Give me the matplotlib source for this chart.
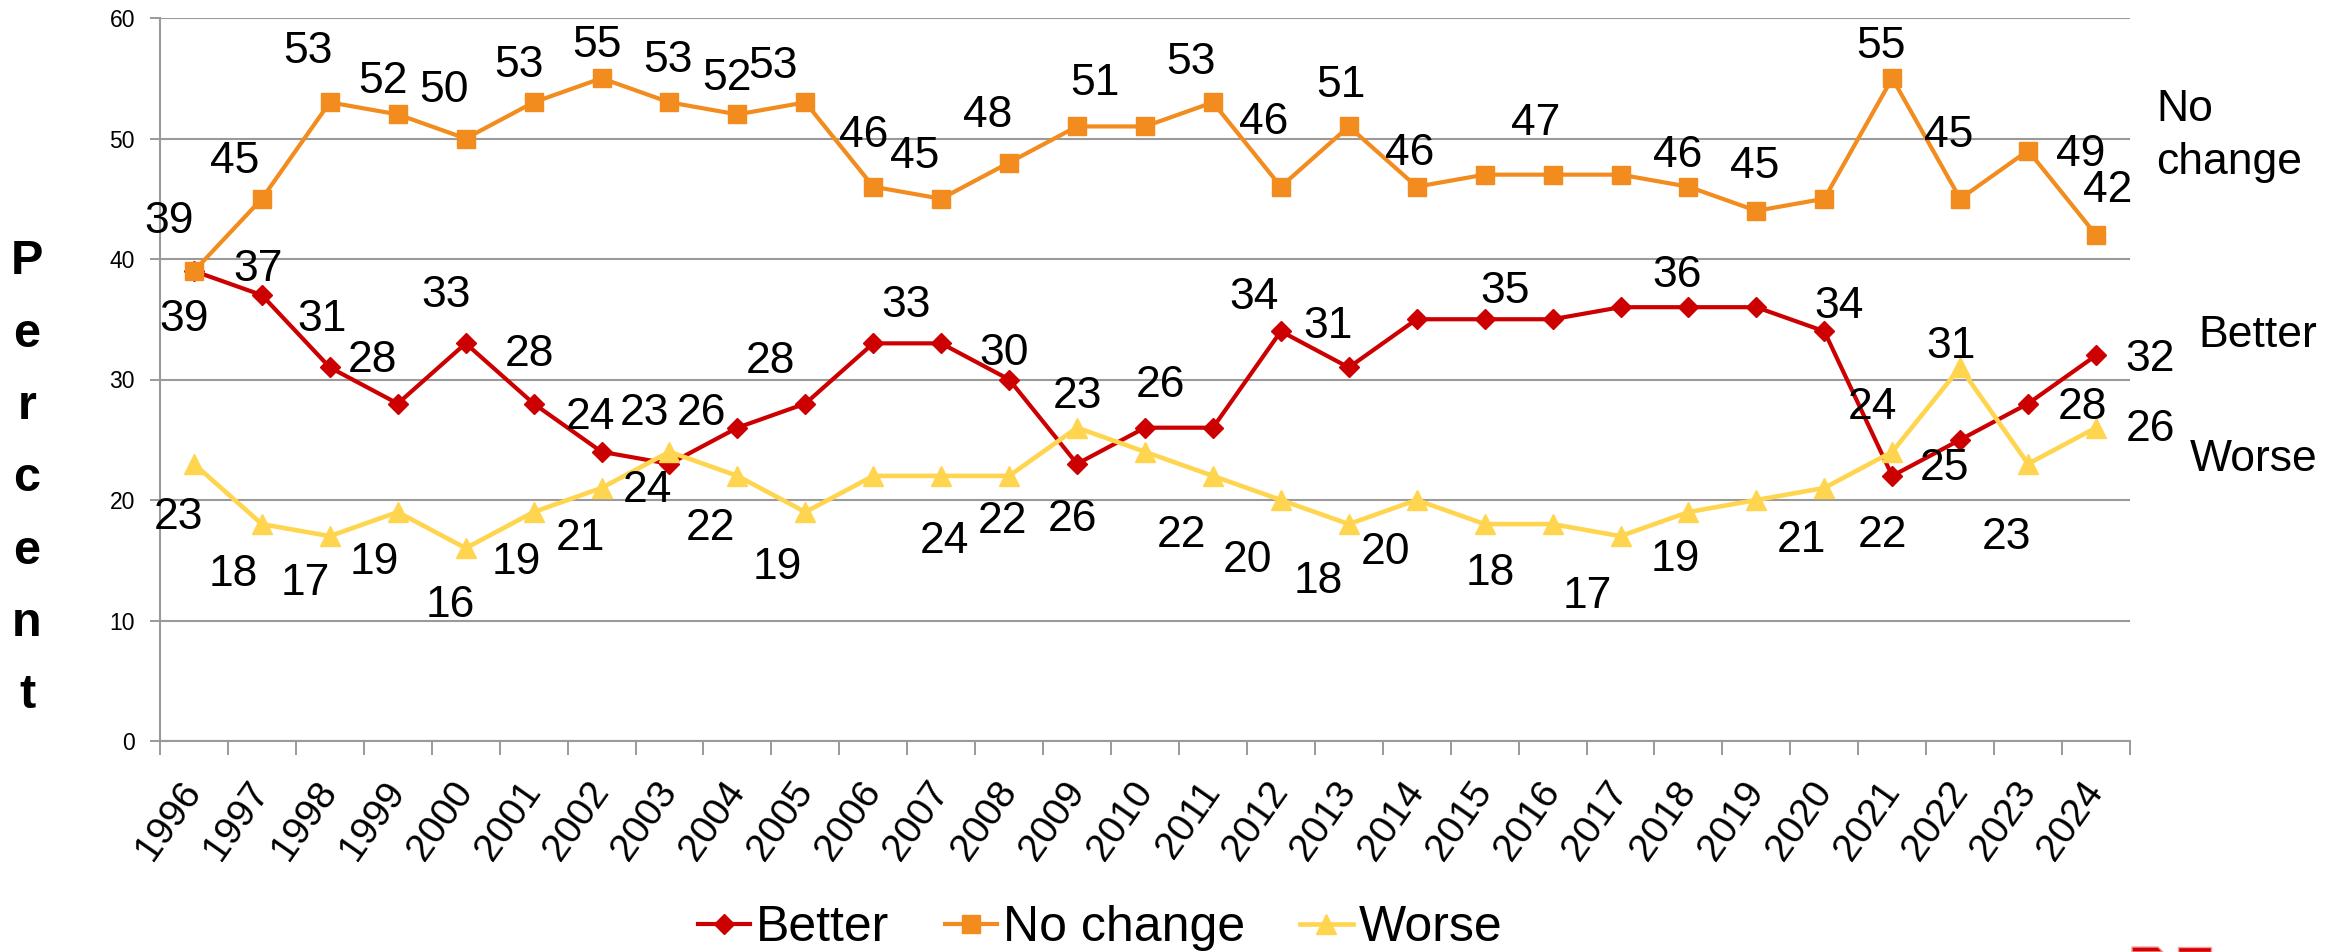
import matplotlib.pyplot as plt
from matplotlib.patches import Polygon
import numpy as np

plt.rcParams['font.family'] = ['Liberation Sans', 'DejaVu Sans']

years = [str(y) for y in range(1996, 2025)]

better = [39, 37, 31, 28, 33, 28, 24, 23, 26, 28, 33, 33, 30, 23, 26, 26, 34, 31,
          35, 35, 35, 36, 36, 36, 34, 22, 25, 28, 32]
no_change = [39, 45, 53, 52, 50, 53, 55, 53, 52, 53, 46, 45, 48, 51, 51, 53, 46, 51,
             46, 47, 47, 47, 46, 44, 45, 55, 45, 49, 42]
worse = [23, 18, 17, 19, 16, 19, 21, 24, 22, 19, 22, 22, 22, 26, 24, 22, 20, 18,
         20, 18, 18, 17, 19, 20, 21, 24, 31, 23, 26]

# data labels as printed on the chart ('' = no label shown)
better_lbl = ['39', '37', '31', '28', '33', '28', '24', '23', '26', '28', '33', '', '30', '23',
              '26', '', '34', '31', '', '35', '', '', '36', '', '34', '22', '25', '28', '32']
nochange_lbl = ['39', '45', '53', '52', '50', '53', '55', '53', '52', '53', '46', '45', '48', '51',
                '', '53', '46', '51', '46', '', '47', '', '46', '', '45', '55', '45', '49', '42']
worse_lbl = ['23', '18', '17', '19', '16', '19', '21', '24', '22', '19', '', '24', '22', '26',
             '', '22', '20', '18', '20', '18', '', '17', '19', '', '21', '24', '31', '23', '26']

# label offsets from the point, pixels (right, down)
better_off = [(-10, 44), (-4, -30), (-8, -52), (-25, -47), (-20, -52), (-4, -53), (-11, -38),
              (-25, -54), (-36, -18), (-35, -46), (33, -42), (0, 0), (-5, -30), (0, -71),
              (15, -46), (0, 0), (-27, -38), (-21, -45), (0, 0), (20, -32), (0, 0), (0, 0),
              (-11, -36), (0, 0), (15, -29), (-10, 56), (-16, 25), (54, 0), (54, 0)]
nochange_off = [(-25, -54), (-27, -41), (-22, -55), (-15, -37), (-22, -52), (-15, -41), (-5, -37),
                (-1, -46), (-10, -40), (-32, -40), (-10, -55), (-27, -46), (-22, -51), (18, -47),
                (0, 0), (-22, -44), (-17, -68), (-8, -45), (-7, -37), (0, 0), (-17, -55), (0, 0),
                (-11, -35), (0, 0), (-70, -36), (-11, -36), (-11, -67), (53, 0), (12, -48)]
worse_off = [(-15, 50), (-29, 46), (-25, 43), (-23, 46), (-15, 53), (-17, 46), (-21, 47),
             (-22, 35), (-27, 49), (-28, 51), (0, 0), (3, 62), (-7, 42), (-5, 88), (0, 0),
             (-31, 56), (-33, 56), (-31, 53), (-31, 48), (6, 45), (0, 0), (-33, 56), (-13, 43),
             (0, 0), (-23, 49), (-20, -48), (-9, -25), (-22, 70), (54, -2)]

c_better = '#CC0000'
c_nochange = '#F28C1E'
c_worse = '#FFD54F'
c_grid = '#9A9A9A'

W, H = 2349, 952
fig = plt.figure(figsize=(W / 100, H / 100), dpi=100)
ax = fig.add_axes([160 / W, 1 - 741 / H, 1970 / W, 723 / H])

x = np.arange(len(years))
ax.plot(x, better, color=c_better, lw=3.0, marker='D', ms=10.5, label='Better', zorder=3)
ax.plot(x, no_change, color=c_nochange, lw=3.0, marker='s', ms=13, label='No change', zorder=4)
ax.plot(x, worse, color=c_worse, lw=3.3, marker='^', ms=15, label='Worse', zorder=5)

for vals, lbls, offs in [(better, better_lbl, better_off),
                         (no_change, nochange_lbl, nochange_off),
                         (worse, worse_lbl, worse_off)]:
    for i, (v, t, (dx, dy)) in enumerate(zip(vals, lbls, offs)):
        if t:
            ax.annotate(t, (i, v), xytext=(dx, -dy - 4), textcoords='offset pixels',
                        ha='center', va='center', fontsize=32, zorder=6)

ax.set_xlim(-0.5, len(years) - 0.5)
ax.set_ylim(0, 60)
ax.set_yticks(range(0, 61, 10))
ax.yaxis.grid(True, color=c_grid, lw=1.5)
ax.set_axisbelow(True)
ax.tick_params(axis='y', labelsize=16.5, length=7, width=1.4, color=c_grid, pad=11)

ax.set_xticks(np.arange(-0.5, len(years)), labels=[])
ax.set_xticks(x, labels=years, minor=True)
ax.tick_params(axis='x', which='major', length=10, width=1.4, color=c_grid)
ax.tick_params(axis='x', which='minor', length=0, labelsize=28, pad=32)
for lab in ax.get_xticklabels(minor=True):
    lab.set_rotation(55)
    lab.set_ha('right')
    lab.set_va('center')
    lab.set_rotation_mode('anchor')

for s in ['top', 'right']:
    ax.spines[s].set_visible(False)
for s in ['left', 'bottom']:
    ax.spines[s].set_color(c_grid)
    ax.spines[s].set_linewidth(1.5)

fig.text(0.0115, 0.497, '\n'.join('Percent'), fontsize=35, fontweight='bold',
         ha='center', va='center', multialignment='center', linespacing=1.78)

fig.text(2156 / W, 1 - 136 / H, 'No\nchange', fontsize=32, ha='left', va='center', linespacing=1.4)
fig.text(2198 / W, 1 - 335 / H, 'Better', fontsize=32, ha='left', va='center')
fig.text(2190 / W, 1 - 459 / H, 'Worse', fontsize=32, ha='left', va='center')

fig.legend(loc='center', bbox_to_anchor=(1100 / W, 1 - 928 / H), ncol=3, frameon=False,
           fontsize=36, handlelength=1.05, handletextpad=0.12, columnspacing=1.1,
           borderpad=0, borderaxespad=0)

# cropped logo peeking in at the bottom edge
for pts in [[(2132, 952), (2132, 947), (2158, 947), (2163, 952)],
            [(2178, 952), (2178, 947), (2211, 947), (2211, 952)]]:
    fig.patches.append(Polygon([(px / W, 1 - py / H) for px, py in pts], closed=True,
                               transform=fig.transFigure, facecolor='#D40000',
                               edgecolor='#F4A0A0', lw=1.0))

fig.savefig('out.png', dpi=100)
